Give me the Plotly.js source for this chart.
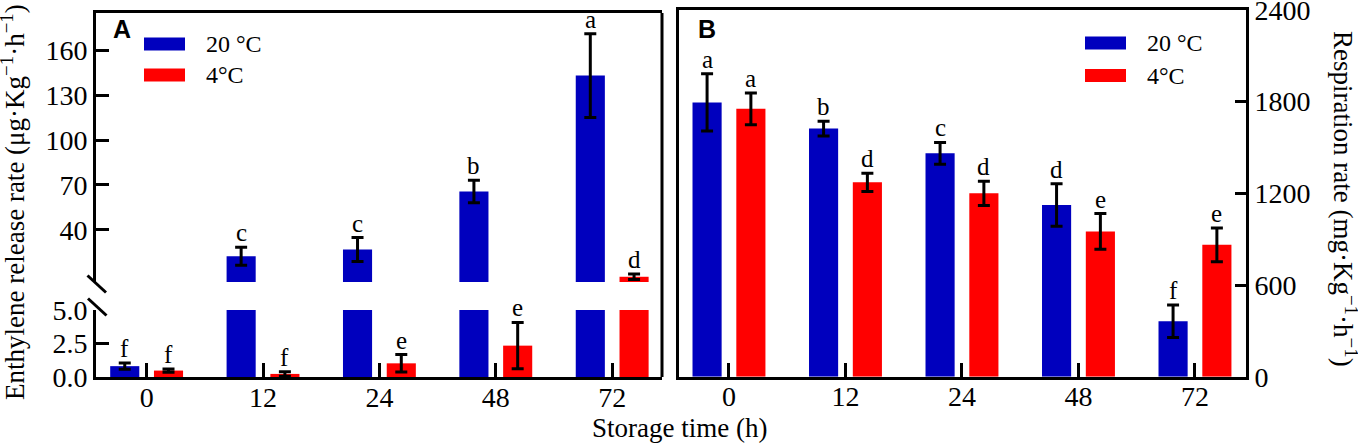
<!DOCTYPE html>
<html>
<head>
<meta charset="utf-8">
<script src="https://cdn.plot.ly/plotly-3.0.1.min.js"></script>
<style>html,body{margin:0;padding:0;background:#fff;}#chart{width:1358px;height:445px;}</style>
</head>
<body>
<div id="chart"></div>
<script>
// ---------- data ----------
var categories = ['0', '12', '24', '48', '72'];
var ethylene20 = [0.81, 22.2, 26.7, 65.6, 143.1];
var ethylene20Err = [0.23, 6.0, 8.0, 7.5, 28.0];
var ethylene4 = [0.48, 0.23, 1.02, 2.34, 8.5];
var ethylene4Err = [0.12, 0.17, 0.65, 1.73, 1.9];
var ethyleneLetters20 = ['f', 'c', 'c', 'b', 'a'];
var ethyleneLetters4 = ['f', 'f', 'e', 'e', 'd'];
var resp20 = [1795, 1624, 1462, 1124, 363];
var resp20Err = [187, 48, 71, 139, 107];
var resp4 = [1753, 1272, 1200, 951, 863];
var resp4Err = [104, 60, 79, 117, 111];
var respLetters20 = ['a', 'b', 'c', 'd', 'f'];
var respLetters4 = ['a', 'd', 'd', 'e', 'e'];
var seriesNames = ['20 °C', '4°C'];
var ethyleneTicksLow = [0, 2.5, 5];
var ethyleneTicksHigh = [40, 70, 100, 130, 160];
var respTicks = [0, 600, 1200, 1800, 2400];

// ---------- style ----------
var W = 1358, H = 445;
function px(x) { return x / W; }
function py(y) { return 1 - y / H; }
var BLUE = '#0000BE', RED = '#FF0000';
var SERIF = 'Liberation Serif, Times New Roman, serif';
var breakValue = 5;
var barOffset = 0.188;

function errStyle(arr) {
  return {type: 'data', array: arr, visible: true, color: '#000', thickness: 3, width: 6};
}
function barTrace(y, err, color, name, xa, ya) {
  return {type: 'bar', x: categories, y: y, name: name, xaxis: xa, yaxis: ya,
    marker: {color: color, line: {width: 0}}, error_y: errStyle(err),
    showlegend: false, hoverinfo: 'skip'};
}

var data = [
  // panel A lower segment
  barTrace(ethylene20, ethylene20Err, BLUE, seriesNames[0], 'x', 'y'),
  barTrace(ethylene4, ethylene4Err, RED, seriesNames[1], 'x', 'y'),
  // panel A upper segment
  barTrace(ethylene20, ethylene20Err, BLUE, seriesNames[0], 'x2', 'y2'),
  barTrace(ethylene4, ethylene4Err, RED, seriesNames[1], 'x2', 'y2'),
  // panel B
  barTrace(resp20, resp20Err, BLUE, seriesNames[0], 'x3', 'y3'),
  barTrace(resp4, resp4Err, RED, seriesNames[1], 'x3', 'y3')
];

var tickFont = {family: SERIF, size: 28, color: '#000'};
var annotations = [];
function letterAnn(i, side, val, err, letter, xref, yrefFn) {
  var top = val + err;
  annotations.push({xref: xref, yref: yrefFn(top), x: i + side * barOffset, y: top,
    text: letter, showarrow: false, xanchor: 'center', yanchor: 'bottom', yshift: -1,
    font: {family: SERIF, size: 25, color: '#000'}});
}
var aRef = function (v) { return v > breakValue ? 'y2' : 'y'; };
var bRef = function () { return 'y3'; };
for (var i = 0; i < categories.length; i++) {
  letterAnn(i, -1, ethylene20[i], ethylene20Err[i], ethyleneLetters20[i], 'x', aRef);
  letterAnn(i, 1, ethylene4[i], ethylene4Err[i], ethyleneLetters4[i], 'x', aRef);
  letterAnn(i, -1, resp20[i], resp20Err[i], respLetters20[i], 'x3', bRef);
  letterAnn(i, 1, resp4[i], resp4Err[i], respLetters4[i], 'x3', bRef);
}

// titles / panel labels
annotations.push({xref: 'paper', yref: 'paper', x: px(13), y: py(202), textangle: -90,
  text: 'Enthylene release rate (μg·Kg<sup>−1</sup>·h<sup>−1</sup>)', showarrow: false,
  xanchor: 'center', yanchor: 'middle', font: {family: SERIF, size: 27, color: '#000'}});
annotations.push({xref: 'paper', yref: 'paper', x: px(1345), y: py(199), textangle: 90,
  text: 'Respiration rate (mg·Kg<sup>−1</sup>·h<sup>−1</sup>)', showarrow: false,
  xanchor: 'center', yanchor: 'middle', font: {family: SERIF, size: 27, color: '#000'}});
annotations.push({xref: 'paper', yref: 'paper', x: px(679), y: py(428),
  text: 'Storage time (h)', showarrow: false, xanchor: 'center', yanchor: 'middle',
  font: {family: SERIF, size: 27, color: '#000'}});
annotations.push({xref: 'paper', yref: 'paper', x: px(111), y: py(29), text: '<b>A</b>',
  showarrow: false, xanchor: 'left', yanchor: 'middle',
  font: {family: 'Liberation Sans, Arial, sans-serif', size: 25, color: '#000'}});
annotations.push({xref: 'paper', yref: 'paper', x: px(696), y: py(29), text: '<b>B</b>',
  showarrow: false, xanchor: 'left', yanchor: 'middle',
  font: {family: 'Liberation Sans, Arial, sans-serif', size: 25, color: '#000'}});

// legends (drawn as swatches + text)
var shapes = [];
function legend(x0, yBlue, yRed) {
  var colors = [BLUE, RED], ys = [yBlue, yRed];
  for (var k = 0; k < 2; k++) {
    shapes.push({type: 'rect', xref: 'paper', yref: 'paper', x0: px(x0), x1: px(x0 + 41),
      y0: py(ys[k] + 6.5), y1: py(ys[k] - 6.5), fillcolor: colors[k], line: {width: 0}});
    annotations.push({xref: 'paper', yref: 'paper', x: px(x0 + 60), y: py(ys[k]),
      text: seriesNames[k], showarrow: false, xanchor: 'left', yanchor: 'middle',
      font: {family: SERIF, size: 24, color: '#000'}});
  }
}
legend(144, 44, 75);
legend(1085, 43, 75.5);

// frame pieces
shapes.push({type: 'line', xref: 'paper', yref: 'paper', x0: px(662), x1: px(662),
  y0: py(377), y1: py(13), line: {color: '#000', width: 3}});
// axis break slashes
shapes.push({type: 'line', xref: 'paper', yref: 'paper', x0: px(87.5), x1: px(106),
  y0: py(275.5), y1: py(292.5), line: {color: '#000', width: 3}});
shapes.push({type: 'line', xref: 'paper', yref: 'paper', x0: px(88), x1: px(106.5),
  y0: py(298.5), y1: py(315.5), line: {color: '#000', width: 3}});

var axCommon = {showgrid: false, zeroline: false, showline: true, linecolor: '#000', linewidth: 3,
  ticks: 'inside', ticklen: 13, tickwidth: 3, tickcolor: '#000', tickfont: tickFont,
  ticklabeloverflow: 'allow', fixedrange: true};
function ax(extra) { var o = {}; for (var k in axCommon) o[k] = axCommon[k]; for (var k2 in extra) o[k2] = extra[k2]; return o; }

var layout = {
  width: W, height: H,
  margin: {l: 0, r: 0, t: 0, b: 0, pad: 0},
  paper_bgcolor: '#fff', plot_bgcolor: '#fff',
  barmode: 'group', bargap: 0.248, bargroupgap: 0.335,
  showlegend: false,
  xaxis: ax({domain: [px(96), px(662)], anchor: 'y', type: 'category', categoryorder: 'array',
    categoryarray: categories, range: [-0.435, 4.428], ticklen: 14, ticklabelstandoff: -7}),
  yaxis: ax({domain: [py(377), py(310)], anchor: 'x', range: [0, breakValue],
    tickvals: ethyleneTicksLow, tickformat: '.1f'}),
  xaxis2: ax({domain: [px(96), px(662)], anchor: 'y2', type: 'category', categoryorder: 'array',
    categoryarray: categories, range: [-0.435, 4.428], side: 'top', ticks: '', showticklabels: false}),
  yaxis2: ax({domain: [py(282), py(13)], anchor: 'x2', range: [breakValue, 185],
    tickvals: ethyleneTicksHigh}),
  xaxis3: ax({domain: [px(679), px(1246)], anchor: 'y3', type: 'category', categoryorder: 'array',
    categoryarray: categories, range: [-0.429, 4.438], mirror: true, ticklen: 14, ticklabelstandoff: -7}),
  yaxis3: ax({domain: [py(376.7), py(10)], anchor: 'x3', side: 'right', range: [0, 2400],
    tickvals: respTicks, mirror: true, ticklen: 11}),
  annotations: annotations,
  shapes: shapes
};

Plotly.newPlot('chart', data, layout, {displayModeBar: false, staticPlot: true});
</script>
</body>
</html>
